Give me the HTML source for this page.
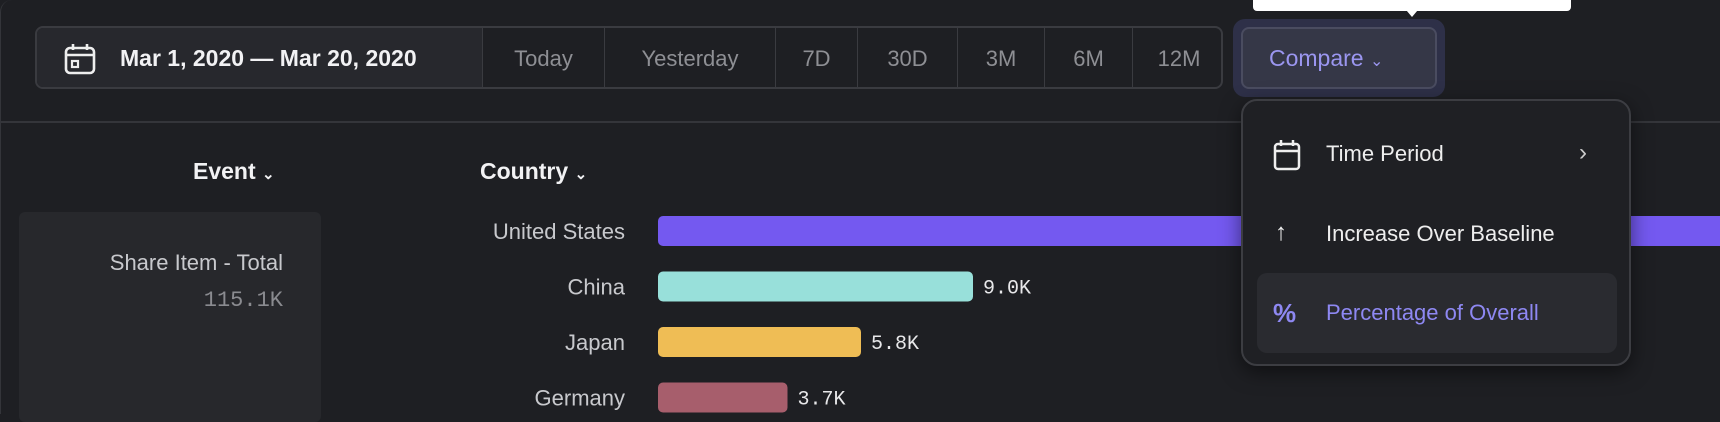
<!DOCTYPE html>
<html><head><meta charset="utf-8"><style>
*{box-sizing:border-box;margin:0;padding:0}
body{width:1720px;height:414px;background:#1e1f23;overflow:hidden;position:relative;font-family:"Liberation Sans",sans-serif;color:#e8e8ea}
.abs{position:absolute}
.seg{position:absolute;top:0;height:61px;line-height:61px;text-align:center;font-size:22px;color:#8e8f94;border-left:1px solid #3a3b40}
.mono{font-family:"Liberation Mono",monospace}
.item{position:absolute;left:0;width:390px;height:80px;font-size:22px}
</style></head><body>
<div class="abs" style="left:0;top:0;width:1720px;height:414px;border-left:1px solid #34353a;border-top-left-radius:12px"></div>
<div class="abs" style="left:35px;top:26px;width:1188px;height:63px;border:2px solid #3a3b40;border-radius:8px;overflow:hidden">
  <div class="abs" style="left:0;top:0;width:445px;height:61px;background:#27282d">
    <svg class="abs" style="left:26px;top:14px" width="34" height="34" viewBox="0 0 34 34"><rect x="3" y="6" width="28" height="25" rx="4" fill="none" stroke="#eee" stroke-width="2.6"/><line x1="3" y1="13" x2="31" y2="13" stroke="#eee" stroke-width="2.6"/><line x1="10" y1="2" x2="10" y2="8" stroke="#eee" stroke-width="2.6"/><line x1="24" y1="2" x2="24" y2="8" stroke="#eee" stroke-width="2.6"/><rect x="9" y="19" width="6" height="6" fill="none" stroke="#eee" stroke-width="2.2"/></svg>
    <div class="abs" style="left:83px;top:0;line-height:61px;font-size:23px;font-weight:bold;color:#f2f2f4">Mar 1, 2020 — Mar 20, 2020</div>
  </div>
  <div class="seg" style="left:445px;width:122px">Today</div>
  <div class="seg" style="left:567px;width:171px">Yesterday</div>
  <div class="seg" style="left:738px;width:82px">7D</div>
  <div class="seg" style="left:820px;width:100px">30D</div>
  <div class="seg" style="left:920px;width:87px">3M</div>
  <div class="seg" style="left:1007px;width:88px">6M</div>
  <div class="seg" style="left:1095px;width:93px">12M</div>
</div>
<div class="abs" style="left:1233px;top:19px;width:212px;height:78px;border-radius:12px;background:#2e3048"></div>
<div class="abs" style="left:1241px;top:27px;width:196px;height:62px;border:2px solid #4a4c60;border-radius:8px;background:#353747;color:#9b96f0;font-size:23px;line-height:58px;padding-left:26px">Compare <span style="font-size:16px">&#8964;</span></div>
<div class="abs" style="left:1253px;top:-6px;width:318px;height:17px;background:#fff;border-radius:4px"></div>
<div class="abs" style="left:1401px;top:4px;width:0;height:0;border-left:11px solid transparent;border-right:11px solid transparent;border-top:13px solid #fff"></div>
<div class="abs" style="left:1px;top:121px;width:1719px;height:2px;background:#34353a"></div>
<div class="abs" style="left:193px;top:158px;font-size:23px;font-weight:bold;color:#f2f2f4">Event <span style="font-size:15px">&#8964;</span></div>
<div class="abs" style="left:480px;top:158px;font-size:23px;font-weight:bold;color:#f2f2f4">Country <span style="font-size:15px">&#8964;</span></div>
<div class="abs" style="left:19px;top:212px;width:302px;height:210px;background:#27282c;border-radius:6px">
  <div class="abs" style="right:38px;top:38px;font-size:22px;color:#c8c9cd;white-space:nowrap">Share Item - Total</div>
  <div class="abs mono" style="right:38px;top:76px;font-size:22px;color:#8a8b90">115.1K</div>
</div>
<svg class="abs" style="left:0;top:0" width="1720" height="414" id="chart"></svg>
<div class="abs" style="left:1241px;top:99px;width:390px;height:267px;background:#1f2024;border:2px solid #3c3d42;border-radius:16px;box-shadow:0 6px 20px rgba(0,0,0,.5)">
  <div class="item" style="top:14px">
    <svg class="abs" style="left:30px;top:24px" width="28" height="32" viewBox="0 0 28 32"><rect x="2" y="5" width="24" height="25" rx="3" fill="none" stroke="#eee" stroke-width="2.5"/><line x1="2" y1="12" x2="26" y2="12" stroke="#eee" stroke-width="2.5"/><line x1="8" y1="1" x2="8" y2="7" stroke="#eee" stroke-width="2.5"/><line x1="20" y1="1" x2="20" y2="7" stroke="#eee" stroke-width="2.5"/></svg>
    <div class="abs" style="left:83px;top:26px;color:#eee">Time Period</div>
    <div class="abs" style="left:336px;top:24px;color:#ccc;font-size:24px">&#8250;</div>
  </div>
  <div class="item" style="top:94px">
    <div class="abs" style="left:32px;top:24px;color:#eee;font-size:24px">&#8593;</div>
    <div class="abs" style="left:83px;top:26px;color:#eee">Increase Over Baseline</div>
  </div>
  <div class="abs" style="left:14px;top:172px;width:360px;height:80px;background:#2a2b30;border-radius:10px">
    <div class="abs" style="left:16px;top:25px;color:#8e88f2;font-size:26px;font-weight:bold">%</div>
    <div class="abs" style="left:69px;top:27px;color:#8e88f2;font-size:22px">Percentage of Overall</div>
  </div>
</div>
<script>
const countries=["United States","China","Japan","Germany"];
const values=[38.0,9.0,5.8,3.7];
const valueLabels=["38.0K","9.0K","5.8K","3.7K"];
const colors=["#7459f0","#98e0da","#efbd55","#a75e6c"];
const svg=document.getElementById('chart');
const NS="http://www.w3.org/2000/svg";
const x0=658,pxPerK=35,rowTop=216,rowStep=55.5,barH=30;
const xs=v=>v*pxPerK;
const ys=i=>rowTop+i*rowStep;
countries.forEach((c,i)=>{
  const y=ys(i);
  const t=document.createElementNS(NS,'text');
  
  
  t.setAttribute('x',625);t.setAttribute('y',y+barH/2+8);t.setAttribute('text-anchor','end');
  t.setAttribute('font-size','22');t.setAttribute('fill','#c8c9cd');t.setAttribute('font-family','Liberation Sans, sans-serif');
  t.textContent=c;svg.appendChild(t);
  const r=document.createElementNS(NS,'rect');
  
  
  r.setAttribute('x',x0);r.setAttribute('y',y);r.setAttribute('width',xs(values[i]));r.setAttribute('height',barH);r.setAttribute('rx',5);r.setAttribute('fill',colors[i]);
  svg.appendChild(r);
  const v=document.createElementNS(NS,'text');
  
  
  v.setAttribute('x',x0+xs(values[i])+10);v.setAttribute('y',y+barH/2+7);
  v.setAttribute('font-size','20');v.setAttribute('fill','#e8e8ea');v.setAttribute('font-family','Liberation Mono, monospace');
  v.textContent=valueLabels[i];svg.appendChild(v);
});
</script>
</body></html>
